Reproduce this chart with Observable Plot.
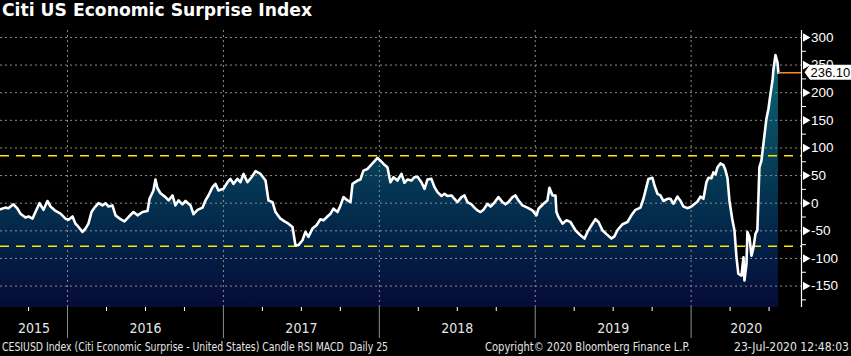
<!DOCTYPE html>
<html><head><meta charset="utf-8">
<script src="https://cdn.jsdelivr.net/npm/d3@7"></script>
<script src="https://cdn.jsdelivr.net/npm/@observablehq/plot@0.6"></script>
<style>
html,body{margin:0;padding:0;background:#000;}
#wrap{width:851px;height:356px;overflow:hidden;position:relative;background:#000;}
#title{height:28px;line-height:29px;color:#fff;font:bold 17.2px "DejaVu Sans","Liberation Sans",sans-serif;padding-left:2px;white-space:nowrap;}
#chart{height:310px;}
#footer{position:absolute;top:338px;left:0;width:851px;height:18px;font:11.5px "Liberation Sans Narrow","DejaVu Sans Condensed","Liberation Sans",sans-serif;color:#e6e6e6;}
#footer span{position:absolute;top:2px;white-space:nowrap;transform-origin:0 50%;display:inline-block;}
</style></head>
<body><div id="wrap"><div id="title">Citi US Economic Surprise Index</div><div id="chart"></div><div id="footer">
<span id="f1" style="left:2px">CESIUSD Index (Citi Economic Surprise - United States) Candle RSI MACD&nbsp; Daily 25</span>
<span id="f2" style="left:485px">Copyright© 2020 Bloomberg Finance L.P.</span>
<span id="f3" style="left:734px">23-Jul-2020 12:48:03</span>
</div></div>
<script>
// decimal-year dates
const dates = [2015.570,2015.602,2015.621,2015.653,2015.679,2015.698,2015.730,2015.750,2015.775,2015.794,2015.820,2015.846,2015.871,2015.891,2015.923,2015.955,2015.987,2016.006,2016.032,2016.051,2016.070,2016.096,2016.115,2016.134,2016.154,2016.173,2016.199,2016.224,2016.243,2016.263,2016.288,2016.308,2016.340,2016.365,2016.391,2016.423,2016.449,2016.481,2016.513,2016.526,2016.551,2016.564,2016.577,2016.596,2016.628,2016.648,2016.673,2016.692,2016.712,2016.737,2016.757,2016.789,2016.808,2016.834,2016.866,2016.885,2016.904,2016.930,2016.949,2016.968,2017.000,2017.026,2017.045,2017.064,2017.090,2017.109,2017.129,2017.154,2017.180,2017.206,2017.238,2017.270,2017.289,2017.315,2017.334,2017.366,2017.392,2017.417,2017.443,2017.462,2017.481,2017.507,2017.526,2017.545,2017.571,2017.597,2017.622,2017.642,2017.667,2017.687,2017.706,2017.732,2017.751,2017.770,2017.796,2017.815,2017.828,2017.860,2017.879,2017.898,2017.924,2017.943,2017.962,2017.988,2018.007,2018.027,2018.052,2018.071,2018.091,2018.116,2018.142,2018.161,2018.181,2018.206,2018.225,2018.245,2018.270,2018.290,2018.309,2018.334,2018.354,2018.373,2018.399,2018.418,2018.437,2018.463,2018.482,2018.501,2018.527,2018.546,2018.565,2018.591,2018.610,2018.629,2018.649,2018.668,2018.694,2018.713,2018.732,2018.764,2018.790,2018.809,2018.828,2018.854,2018.873,2018.892,2018.918,2018.950,2018.982,2019.008,2019.021,2019.053,2019.078,2019.091,2019.111,2019.130,2019.136,2019.149,2019.175,2019.200,2019.226,2019.258,2019.290,2019.316,2019.335,2019.361,2019.386,2019.406,2019.431,2019.457,2019.489,2019.508,2019.527,2019.560,2019.592,2019.617,2019.643,2019.675,2019.694,2019.713,2019.726,2019.752,2019.765,2019.784,2019.803,2019.822,2019.848,2019.867,2019.887,2019.912,2019.932,2019.951,2019.976,2019.996,2020.015,2020.041,2020.060,2020.079,2020.098,2020.111,2020.130,2020.143,2020.156,2020.169,2020.188,2020.207,2020.220,2020.233,2020.246,2020.265,2020.278,2020.291,2020.303,2020.323,2020.336,2020.342,2020.355,2020.361,2020.374,2020.387,2020.400,2020.413,2020.425,2020.438,2020.451,2020.464,2020.483,2020.496,2020.509,2020.522,2020.528,2020.541,2020.554,2020.560];
const values = [-11,-8,-9,-2,-10,-19,-26,-24,-28,-16,0,-12,4,-6,-14,-19,-28,-30,-24,-37,-43,-52,-46,-37,-16,-8,0,-4,0,-6,-4,-22,-29,-33,-25,-16,-22,-16,-14,8,23,43,27,18,11,5,14,-4,5,-2,4,-4,-20,-12,-8,5,14,29,35,23,26,38,44,35,44,38,53,38,47,58,53,41,5,2,-16,-28,-33,-37,-43,-76,-76,-67,-52,-61,-46,-40,-29,-31,-24,-19,-10,-16,-4,11,5,2,35,41,43,59,62,68,74,82,77,71,65,38,47,41,53,37,43,41,47,48,38,26,43,44,29,20,13,17,13,14,8,2,11,14,2,-2,-8,-13,-16,-12,-1,-6,-1,11,2,-2,2,11,14,5,-4,-8,-13,-22,-10,-1,5,28,14,14,-16,-25,-37,-31,-34,-49,-58,-64,-52,-40,-29,-34,-49,-56,-64,-60,-49,-38,-34,-22,-12,-8,8,29,44,46,32,17,14,4,8,8,-1,12,4,-6,-9,-7,-3,3,12,8,38,46,45,56,52,65,72,69,60,46,4,-31,-49,-98,-128,-131,-98,-140,-110,-52,-61,-95,-80,-55,-49,65,77,108,153,171,198,222,242,268,255,236.1];
const lastValue = 236.10;
const yearLabels = ["2015","2016","2017","2018","2019","2020"];
const yearBounds = [2016,2017,2018,2019,2020];
const quarterTicks = [2015.75,2016.25,2016.5,2016.75,2017.25,2017.5,2017.75,2018.25,2018.5,2018.75,2019.25,2019.5,2019.75,2020.25,2020.5];
const majorTicks = [-150,-100,-50,0,50,100,150,200,250,300];
const minorTicks = [-175,-125,-75,-25,25,75,125,175,225,275];
const bands = [86,-78];
const xDomain = [2015.570, 2020.708];
const yDomain = [-188.8, 312.6];

const data = dates.map((d,i)=>({x:d, y:values[i]}));
const yearLabelPos = yearLabels.map(s => { const y0=+s; const a=Math.max(y0,xDomain[0]), b=Math.min(y0+1,xDomain[1]); return (a+b)/2; });

const W = 851, H = 310, mT = 2, mB = 31, mR = 50, mL = 0;

const gradDefs = () => {
  const svg = d3.create("svg:defs");
  const g = svg.append("linearGradient").attr("id","areaGrad").attr("gradientUnits","userSpaceOnUse")
    .attr("x1",0).attr("x2",0).attr("y1",mT).attr("y2",H-mB);
  [[0,"#0f7084"],[0.09,"#0c6576"],[0.43,"#07445b"],[0.62,"#043150"],[0.79,"#032046"],[1,"#070b38"]]
    .forEach(([o,c])=>g.append("stop").attr("offset",o).attr("stop-color",c));
  return svg.node();
};

const valueBox = (index, {y}, values, {width, marginRight}) => {
  const yy = y(lastValue), x0 = width - marginRight;
  const g = d3.create("svg:g");
  g.append("path").attr("d",`M${x0+3.5},${yy} L${x0+9},${yy-7.5} H${width} V${yy+7.5} H${x0+9} Z`).attr("fill","#fff");
  g.append("text").attr("x",x0+9.5).attr("y",yy).attr("dy","0.36em").attr("fill","#000").attr("text-anchor","start")
    .attr("font-size",13).attr("font-family","Liberation Sans, Arial, sans-serif").text(lastValue.toFixed(2));
  return g.node();
};

const chart = Plot.plot({
  width: W, height: H, marginTop: mT, marginBottom: mB, marginLeft: mL, marginRight: mR,
  style: {background: "#000", color: "#fff", fontFamily: "Liberation Sans, Arial, sans-serif", overflow: "visible"},
  x: {type: "linear", domain: xDomain, axis: null},
  y: {domain: yDomain, axis: null},
  marks: [
    gradDefs,
    Plot.areaY(data, {x: "x", y1: () => yDomain[0], y2: "y", fill: "url(#areaGrad)", curve: "linear"}),
    Plot.ruleY(majorTicks, {stroke: "#8c8c8c", strokeDasharray: "2,3", strokeWidth: 1}),
    Plot.ruleX(yearBounds, {stroke: "#8c8c8c", strokeDasharray: "2,3", strokeWidth: 1}),
    Plot.ruleY(bands, {stroke: "#ffe600", strokeDasharray: "9,7", strokeWidth: 1.6}),
    Plot.lineY(data, {x: "x", y: "y", stroke: "#fff", strokeWidth: 2.6, strokeLinejoin: "round"}),
    Plot.ruleY([lastValue], {x1: dates[dates.length-1], x2: xDomain[1], stroke: "#ff8c1a", strokeWidth: 1.5}),
    Plot.ruleX([xDomain[1]], {stroke: "#fff", strokeWidth: 1.2}),
    Plot.axisY(minorTicks, {anchor: "right", label: null, tickSize: 4, tickFormat: () => "", stroke: "#fff"}),
    Plot.dot(majorTicks, {y: d => d, frameAnchor: "right", dx: 4, symbol: "triangle", rotate: 90, r: 3.2, fill: "#fff", stroke: null}),
    Plot.axisY(majorTicks, {anchor: "right", label: null, tickSize: 0, tickPadding: 9.5, fontSize: 13.5, fill: "#fff", tickFormat: d => String(d)}),
    valueBox,
    Plot.axisX(yearBounds, {anchor: "bottom", label: null, tickSize: 31, tickFormat: () => "", stroke: "#8c8c8c"}),
    Plot.axisX(quarterTicks, {anchor: "bottom", label: null, tickSize: 4, tickFormat: () => "", stroke: "#fff"}),
    Plot.axisX(yearLabelPos, {anchor: "bottom", label: null, tickSize: 0, tickPadding: 16, fontSize: 14, fill: "#e6e6e6",
      fontFamily: "Liberation Sans Narrow, DejaVu Sans Condensed, Liberation Sans, sans-serif", tickFormat: d => String(Math.floor(d))})
  ]
});
document.getElementById("chart").appendChild(chart);

// fit footer texts to the widths they occupy in the reference
const footerWidths = {f1: 386, f2: 205, f3: 115};
for (const [id, w] of Object.entries(footerWidths)) {
  const el = document.getElementById(id);
  const actual = el.getBoundingClientRect().width;
  if (actual > 0) el.style.transform = `scaleX(${w / actual})`;
}
</script>
</body></html>
